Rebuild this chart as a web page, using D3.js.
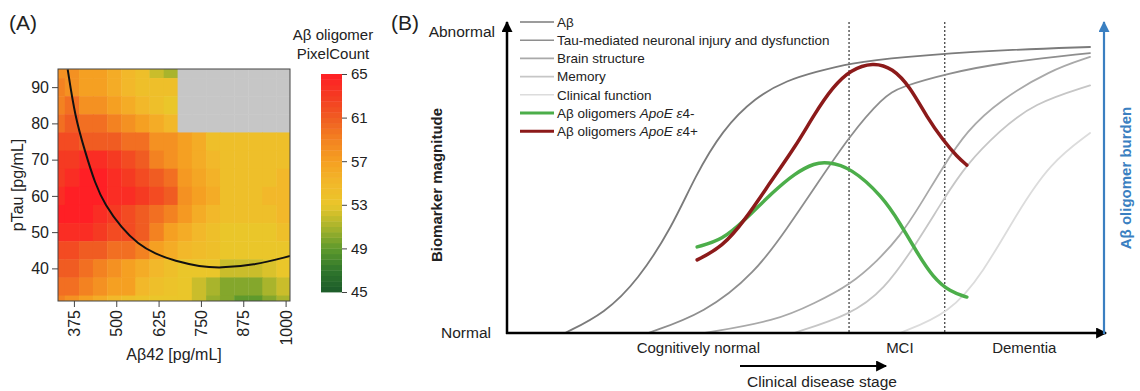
<!DOCTYPE html>
<html>
<head>
<meta charset="utf-8">
<script src="https://cdn.jsdelivr.net/npm/d3@7"></script>
<style>
  body { margin: 0; background: #fff; }
  text { font-family: Arial, "Liberation Sans", sans-serif; fill: #222; }
</style>
</head>
<body>
<svg id="fig" width="1140" height="391"></svg>
<script>
// ---------- panel A data ----------
const abetaBins = [327, 369, 411, 452, 494, 536, 577, 619, 661, 702, 744, 786, 827, 869, 911, 952, 994];
const ptauBins = [95, 90, 85, 80, 75, 70, 65, 60, 55, 50, 45, 40, 35, 30];
const pixelCount = [
  [58, 58, 57, 57, 56, 55, 54, 52, 51, null, null, null, null, null, null, null, null],
  [59, 58, 57, 57, 56, 55, 54, 54, 54, null, null, null, null, null, null, null, null],
  [59, 60, 58, 58, 57, 56, 55, 54, 53, null, null, null, null, null, null, null, null],
  [60, 61, 60, 60, 59, 58, 57, 56, 55, null, null, null, null, null, null, null, null],
  [62, 62, 61, 61, 61, 60, 60, 58, 58, 57, 56, 54, 54, 54, 54, 54, 54],
  [63, 63, 64, 64, 63, 62, 61, 59, 58, 57, 56, 55, 54, 54, 54, 54, 54],
  [63, 64, 65, 65, 64, 63, 62, 61, 60, 57.5, 56.5, 55.5, 54, 54, 54, 54, 55],
  [64, 65, 65, 65, 64, 64, 63, 62, 61, 58, 57, 56, 54, 54, 54, 55, 55],
  [65, 65, 65, 64, 63, 62, 61, 60, 59, 57.5, 56, 55, 54, 54, 54, 54, 55],
  [64, 64, 64, 63, 62, 62, 61, 59, 57, 56, 55, 54, 53, 53, 53, 53, 54],
  [62, 62, 61, 61, 60, 60, 59, 57, 56, 55, 54.5, 54, 53, 53, 53, 53, 53],
  [61, 61, 60, 59, 58, 57, 56, 55, 54, 53, 53, 53, 52, 52, 52, 52.5, 53],
  [60, 60, 59, 58, 57, 57, 55, 54, 53.5, 53, 52, 51, 50, 50, 50, 51, 52],
  [59, 58, 57, 56, 55, 54, 53.5, 53, 53, 53, 52, 50.5, 50, 49, 49, 50, 51]
];
const boundary = [[356.6, 94.9], [378.2, 81.9], [407.7, 72.3], [437.3, 63.4], [466.8, 57.5],
  [516.1, 51.1], [564.2, 46.7], [614.4, 44], [673.5, 42], [747.3, 40.5], [806.4, 40.1],
  [903.8, 40.8], [1013, 43.4]];
const abetaTicks = [375, 500, 625, 750, 875, 1000];
const ptauTicks = [40, 50, 60, 70, 80, 90];
const legendTicks = [45, 49, 53, 57, 61, 65];
const colorStops = [45, 47, 49, 51, 53, 55, 57, 59, 61, 63, 65];
const colorRange = ["#1b5a2a", "#2f772c", "#5f9a2c", "#a9b42c", "#eac62a", "#f2b82a",
  "#f5a022", "#f38221", "#f05c22", "#f53a22", "#ff1f25"];

// ---------- panel B data ----------
const stageLabels = ["Cognitively normal", "MCI", "Dementia"];
const stagePos = [32, 65.7, 86.5];
const stageCuts = [57.2, 73.2];
const seriesNames = ["Aβ", "Tau-mediated neuronal injury and dysfunction", "Brain structure",
  "Memory", "Clinical function", "Aβ oligomers ApoE ε4-", "Aβ oligomers ApoE ε4+"];
const abCurve = [[9.7, 0], [16.4, 6.6], [21.9, 17.5], [27.6, 35.1], [31.4, 51.7], [36, 67.2],
  [41.5, 78.1], [47, 83.8], [51.5, 86.4], [57.4, 89.4], [65.7, 91.4], [82.4, 93.7], [97.5, 94.7]];
const tauCurve = [[23.6, 0], [33.1, 6.6], [41.5, 19.9], [47, 35.1], [51.5, 48.3], [57.4, 65.6],
  [62.9, 78.1], [65.7, 81.5], [74.1, 86.1], [82.4, 89.4], [97.5, 92.7]];
const brainCurve = [[33.1, 0], [45, 4], [51.5, 9.9], [57.4, 16], [62, 24], [65.7, 32], [69, 42],
  [72.9, 55], [76.9, 67], [82.4, 77], [90.8, 87], [97.5, 91.4]];
const memoryCurve = [[48, 0], [57.4, 6], [63, 14], [68.6, 30], [72.9, 44], [76.9, 56], [82.4, 67],
  [88, 76], [97.5, 82]];
const clinicalCurve = [[65.7, 0], [74.1, 6.6], [79.6, 19.9], [85.3, 39.7], [90.8, 56.3], [97.5, 66.2]];
const oligoNeg = [[31.8, 28.5], [36, 30.8], [39.8, 37.4], [44.3, 46.4], [48.2, 53], [51.5, 56.3],
  [53.5, 56.6], [57.4, 55], [62.9, 45], [65.7, 36.4], [68.6, 26.5], [71.2, 18.5], [74.1, 13.6], [76.9, 11.9]];
const oligoPos = [[31.8, 24.2], [36, 28.5], [39.8, 37.4], [44.3, 50.7], [48.2, 61.6], [51.5, 72.8],
  [54.5, 81.5], [57.4, 87.1], [61.2, 89.7], [64.5, 87.7], [67.4, 81.5], [70.2, 71.5], [72.9, 63.9],
  [75.3, 58.3], [76.9, 55.6]];

const svg = d3.select("#fig");

// ================= panel A =================
const xA = d3.scaleLinear().domain([328, 1013]).range([58, 290]);
const yA = d3.scaleLinear().domain([31, 95]).range([301, 69]);
const color = d3.scaleLinear().domain(colorStops).range(colorRange).clamp(true);

svg.append("text").attr("x", 9).attr("y", 30).style("font-size", "21px").text("(A)");

svg.append("clipPath").attr("id", "heatClip")
  .append("rect").attr("x", 58).attr("y", 69).attr("width", 232).attr("height", 232);

const heat = svg.append("g").attr("clip-path", "url(#heatClip)");
const halfW = 20.85, halfH = 2.5;
pixelCount.forEach((row, i) => {
  heat.selectAll(null)
    .data(row)
    .enter()
    .append("rect")
    .attr("x", (d, j) => xA(abetaBins[j] - halfW))
    .attr("y", yA(ptauBins[i] + halfH))
    .attr("width", (d, j) => xA(abetaBins[j] + halfW) - xA(abetaBins[j] - halfW) + 0.5)
    .attr("height", yA(ptauBins[i] - halfH) - yA(ptauBins[i] + halfH) + 0.5)
    .attr("fill", (d) => d == null ? "#c6c6c6" : color(d));
});

heat.append("path")
  .datum(boundary)
  .attr("fill", "none")
  .attr("stroke", "#111")
  .attr("stroke-width", 2)
  .attr("d", d3.line().x((d) => xA(d[0])).y((d) => yA(d[1])).curve(d3.curveBasis));

svg.append("rect")
  .attr("x", 58).attr("y", 69).attr("width", 232).attr("height", 232)
  .attr("fill", "none").attr("stroke", "#444").attr("stroke-width", 1);

svg.append("g")
  .attr("transform", "translate(58,0)")
  .call(d3.axisLeft(yA).tickValues(ptauTicks).tickSize(6).tickSizeOuter(0))
  .call((g) => g.select(".domain").remove())
  .call((g) => g.selectAll("line").attr("stroke", "#444"))
  .call((g) => g.selectAll("text").style("font-size", "16px").attr("font-family", null));

svg.append("g")
  .attr("transform", "translate(0,301)")
  .call(d3.axisBottom(xA).tickValues(abetaTicks).tickFormat(d3.format("d")).tickSize(6).tickSizeOuter(0))
  .call((g) => g.select(".domain").remove())
  .call((g) => g.selectAll("line").attr("stroke", "#444"))
  .call((g) => g.selectAll("text")
    .attr("font-family", null)
    .style("font-size", "16px")
    .attr("transform", "rotate(-90)")
    .attr("text-anchor", "end")
    .attr("x", -9).attr("y", 0).attr("dy", "0.35em"));

svg.append("text")
  .attr("x", 174).attr("y", 360)
  .attr("text-anchor", "middle").style("font-size", "16px")
  .text("Aβ42 [pg/mL]");

svg.append("text")
  .attr("transform", "rotate(-90)")
  .attr("x", -185).attr("y", 23)
  .attr("text-anchor", "middle").style("font-size", "16px")
  .text("pTau [pg/mL]");

// colour bar
const cb = d3.scaleLinear().domain([45, 65]).range([292, 74]);
const bands = d3.range(45, 65, 0.5);
svg.append("g").selectAll("rect")
  .data(bands)
  .enter()
  .append("rect")
  .attr("x", 321).attr("width", 21)
  .attr("y", (d) => cb(d + 0.5))
  .attr("height", (d) => cb(d) - cb(d + 0.5) + 0.4)
  .attr("fill", (d) => color(d + 0.25));

svg.append("g")
  .attr("transform", "translate(342,0)")
  .call(d3.axisRight(cb).tickValues(legendTicks).tickSize(5).tickPadding(4).tickSizeOuter(0))
  .call((g) => g.select(".domain").remove())
  .call((g) => g.selectAll("line").attr("stroke", "#444"))
  .call((g) => g.selectAll("text").attr("font-family", null).style("font-size", "15px"));

svg.append("text").attr("x", 333).attr("y", 40).attr("text-anchor", "middle")
  .style("font-size", "15px").text("Aβ oligomer");
svg.append("text").attr("x", 333).attr("y", 59).attr("text-anchor", "middle")
  .style("font-size", "15px").text("PixelCount");

// ================= panel B =================
const xB = d3.scaleLinear().domain([0, 100]).range([507, 1105]);
const yB = d3.scaleLinear().domain([0, 100]).range([333, 31]);

svg.append("text").attr("x", 391).attr("y", 30).style("font-size", "21px").text("(B)");

const defs = svg.append("defs");
function arrowHead(id, fill) {
  defs.append("marker")
    .attr("id", id)
    .attr("viewBox", "0 0 10 10")
    .attr("refX", 9).attr("refY", 5)
    .attr("markerUnits", "userSpaceOnUse")
    .attr("markerWidth", 12).attr("markerHeight", 11)
    .attr("orient", "auto")
    .append("path").attr("d", "M0,0L10,5L0,10Z").attr("fill", fill);
}
arrowHead("arrowBlack", "#000");
arrowHead("arrowBlue", "#3a7fc1");

// dotted stage boundaries
svg.append("g").selectAll("line")
  .data(stageCuts)
  .enter()
  .append("line")
  .attr("x1", (d) => xB(d)).attr("x2", (d) => xB(d))
  .attr("y1", 22).attr("y2", 333)
  .attr("stroke", "#444").attr("stroke-width", 1.3)
  .attr("stroke-dasharray", "2,2");

const lineB = d3.line().x((d) => xB(d[0])).y((d) => yB(d[1])).curve(d3.curveBasis);
const seriesData = [abCurve, tauCurve, brainCurve, memoryCurve, clinicalCurve, oligoNeg, oligoPos];
const seriesColor = ["#7b7b7b", "#8e8e8e", "#a9a9a9", "#c6c6c6", "#dcdcdc", "#4cae4a", "#8c1a1a"];
const seriesWidth = [1.8, 1.8, 1.8, 1.8, 1.8, 3.5, 3.5];

svg.append("g").selectAll("path")
  .data(seriesData)
  .enter()
  .append("path")
  .attr("fill", "none")
  .attr("stroke", (d, i) => seriesColor[i])
  .attr("stroke-width", (d, i) => seriesWidth[i])
  .attr("stroke-linecap", "round")
  .attr("d", lineB);

// axes with arrows
svg.append("line").attr("x1", 507).attr("y1", 334).attr("x2", 507).attr("y2", 22)
  .attr("stroke", "#000").attr("stroke-width", 2.5).attr("marker-end", "url(#arrowBlack)");
svg.append("line").attr("x1", 506).attr("y1", 333).attr("x2", 1106).attr("y2", 333)
  .attr("stroke", "#000").attr("stroke-width", 2.5).attr("marker-end", "url(#arrowBlack)");
svg.append("line").attr("x1", 1104).attr("y1", 334).attr("x2", 1104).attr("y2", 22)
  .attr("stroke", "#3a7fc1").attr("stroke-width", 2.2).attr("marker-end", "url(#arrowBlue)");

svg.append("text").attr("x", 495).attr("y", 37).attr("text-anchor", "end")
  .style("font-size", "15.5px").text("Abnormal");
svg.append("text").attr("x", 491).attr("y", 338).attr("text-anchor", "end")
  .style("font-size", "15.5px").text("Normal");

svg.append("text")
  .attr("transform", "rotate(-90)")
  .attr("x", -185).attr("y", 442)
  .attr("text-anchor", "middle").style("font-size", "15px").style("font-weight", "bold")
  .text("Biomarker magnitude");

svg.append("text")
  .attr("transform", "rotate(-90)")
  .attr("x", -178).attr("y", 1131)
  .attr("text-anchor", "middle").style("font-size", "15px").style("font-weight", "bold")
  .style("fill", "#3a7fc1")
  .text("Aβ oligomer burden");

svg.append("g").selectAll("text")
  .data(stageLabels)
  .enter()
  .append("text")
  .attr("x", (d, i) => xB(stagePos[i]))
  .attr("y", 353)
  .attr("text-anchor", "middle")
  .style("font-size", "15px")
  .text((d) => d);

svg.append("line").attr("x1", 740).attr("y1", 366).attr("x2", 886).attr("y2", 366)
  .attr("stroke", "#000").attr("stroke-width", 2).attr("marker-end", "url(#arrowBlack)");
svg.append("text").attr("x", 822).attr("y", 387).attr("text-anchor", "middle")
  .style("font-size", "15.5px").text("Clinical disease stage");

// legend
const legend = svg.append("g").attr("transform", "translate(520,22)");
const rows = legend.selectAll("g")
  .data(seriesNames)
  .enter()
  .append("g")
  .attr("transform", (d, i) => `translate(0,${i * 18.2})`);
rows.append("line")
  .attr("x1", 0).attr("x2", 34)
  .attr("stroke", (d, i) => seriesColor[i])
  .attr("stroke-width", (d, i) => seriesWidth[i] * 0.9);
rows.append("text")
  .attr("x", 37).attr("dy", "0.35em")
  .style("font-size", "13.5px")
  .each(function (d, i) {
    const t = d3.select(this);
    if (i < 5) { t.text(d); return; }
    t.append("tspan").text("Aβ oligomers ");
    t.append("tspan").style("font-style", "italic").text("ApoE ε");
    t.append("tspan").text(i === 5 ? "4-" : "4+");
  });
</script>
</body>
</html>
